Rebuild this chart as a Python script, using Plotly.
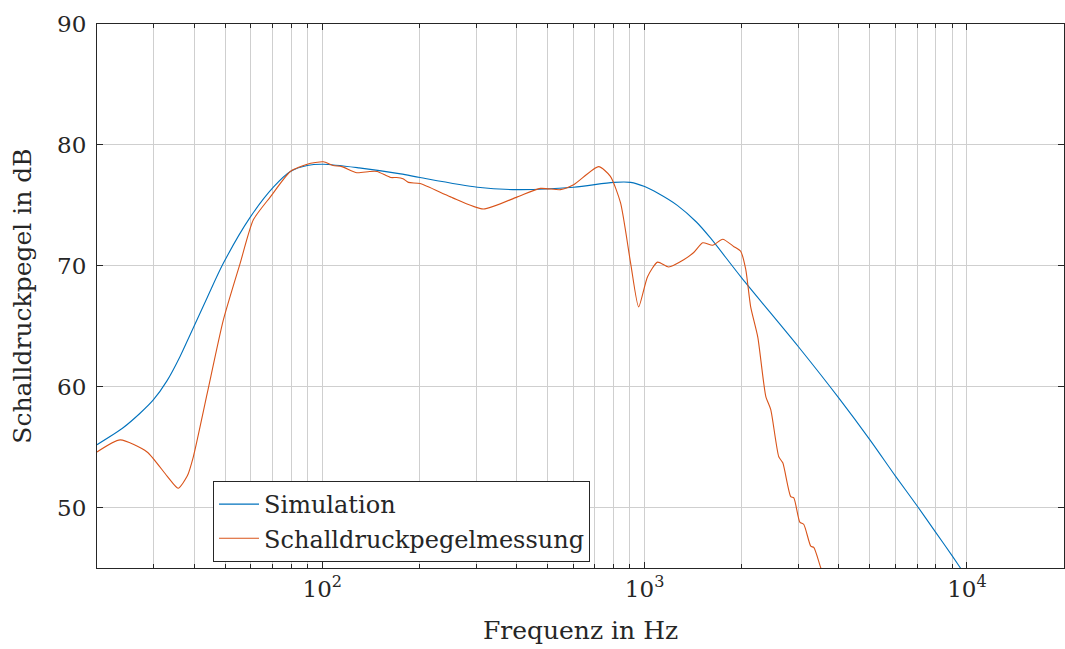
import plotly.graph_objects as go

# Simulated frequency response (Hz, dB)
sim_freq = [20, 24.1, 27.2, 29.9, 33, 36.2, 38.9, 44, 49.3, 59.7, 70.5, 79.6, 89.8, 100.7, 130,
            175, 201, 303, 403, 602, 801, 905, 1000, 1100, 1263, 1450, 1600, 2000, 3000,
            4000, 5000, 6000, 7000, 8000, 9000, 10000, 11000]
sim_db = [55.2, 56.6, 57.8, 58.9, 60.5, 62.5, 64.3, 67.4, 70.2, 74.0, 76.5, 77.8, 78.3, 78.4, 78.1,
          77.6, 77.3, 76.5, 76.3, 76.5, 76.9, 76.9, 76.55, 76.0, 75.0, 73.6, 72.3, 69.0, 63.3,
          59.07, 55.6, 52.6, 50.15, 47.95, 46.0, 44.2, 42.6]

# Measured sound pressure level (Hz, dB)
meas_freq = [20, 23.6, 28.6, 33, 35.7, 38.1, 39.8, 44.0, 49.3, 55.6, 61.1, 69.0, 79.6, 89.8,
             100.7, 108, 115, 128, 140, 148, 163, 170, 178, 185, 201, 250, 316, 403, 475,
             548, 602, 720, 783, 842, 905, 958, 1021, 1097, 1187, 1322, 1420, 1514, 1626,
             1747, 1889, 1986, 2059, 2133, 2244, 2376, 2462, 2607, 2683, 2840, 2903, 3030,
             3118, 3277, 3348, 3521, 3700]
meas_db = [54.6, 55.6, 54.6, 52.6, 51.6, 52.6, 54.2, 59.5, 65.5, 70.2, 73.8, 75.7, 77.8, 78.4,
           78.6, 78.3, 78.2, 77.7, 77.8, 77.8, 77.3, 77.3, 77.2, 76.9, 76.8, 75.7, 74.7, 75.7,
           76.4, 76.3, 76.7, 78.2, 77.4, 75.2, 70.2, 66.6, 69.1, 70.3, 69.9, 70.5, 71.1, 71.9,
           71.7, 72.2, 71.6, 71.2, 69.7, 66.6, 64.1, 59.2, 58.1, 54.2, 53.7, 50.9, 50.8, 48.8,
           48.6, 46.8, 46.7, 45.0, 43.5]

major_x = [100, 1000, 10000]
major_x_text = ["10<sup>2</sup>", "10<sup>3</sup>", "10<sup>4</sup>"]
minor_x = [m * d for d in (10, 100, 1000, 10000) for m in range(2, 10) if 20 <= m * d <= 20000]
y_ticks = [50, 60, 70, 80, 90]

FONT = "DejaVu Serif"
GRID = "#cfcfcf"
AXIS = "#262626"

fig = go.Figure()
fig.add_trace(go.Scatter(x=sim_freq, y=sim_db, mode="lines", name="Simulation",
                         line=dict(color="#0072BD", width=1.1, shape="spline", smoothing=0.8)))
fig.add_trace(go.Scatter(x=meas_freq, y=meas_db, mode="lines", name="Schalldruckpegelmessung",
                         line=dict(color="#D95319", width=1.1, shape="spline", smoothing=0.6)))

fig.update_layout(
    width=1065, height=649,
    margin=dict(l=97, r=1, t=24, b=81),
    paper_bgcolor="white", plot_bgcolor="white",
    font=dict(family=FONT, size=23, color="#262626"),
    showlegend=True,
    legend=dict(x=0.12, y=0.011, xanchor="left", yanchor="bottom",
                bgcolor="white", bordercolor=AXIS, borderwidth=1,
                font=dict(family=FONT, size=24, color="#262626"),
                tracegroupgap=0, itemwidth=40),
    xaxis=dict(
        type="log", range=[1.30103, 4.30103],
        tickmode="array", tickvals=major_x, ticktext=major_x_text,
        ticks="inside", ticklen=6, tickcolor=AXIS,
        showgrid=True, gridcolor=GRID, gridwidth=1,
        minor=dict(tickmode="array", tickvals=minor_x, ticks="inside", ticklen=4,
                   tickcolor=AXIS, showgrid=True, gridcolor=GRID, gridwidth=1),
        showline=True, linecolor=AXIS, linewidth=1.2, mirror="allticks",
        zeroline=False,
        title=dict(text="Frequenz in Hz", font=dict(family=FONT, size=25), standoff=20),
    ),
    yaxis=dict(
        range=[45, 90], tickmode="array", tickvals=y_ticks,
        ticks="inside", ticklen=6, tickcolor=AXIS, ticklabelstandoff=5,
        showgrid=True, gridcolor=GRID, gridwidth=1,
        showline=True, linecolor=AXIS, linewidth=1.2, mirror="allticks",
        zeroline=False,
        title=dict(text="Schalldruckpegel in dB", font=dict(family=FONT, size=25), standoff=18),
    ),
)

fig.write_html("out.html")
